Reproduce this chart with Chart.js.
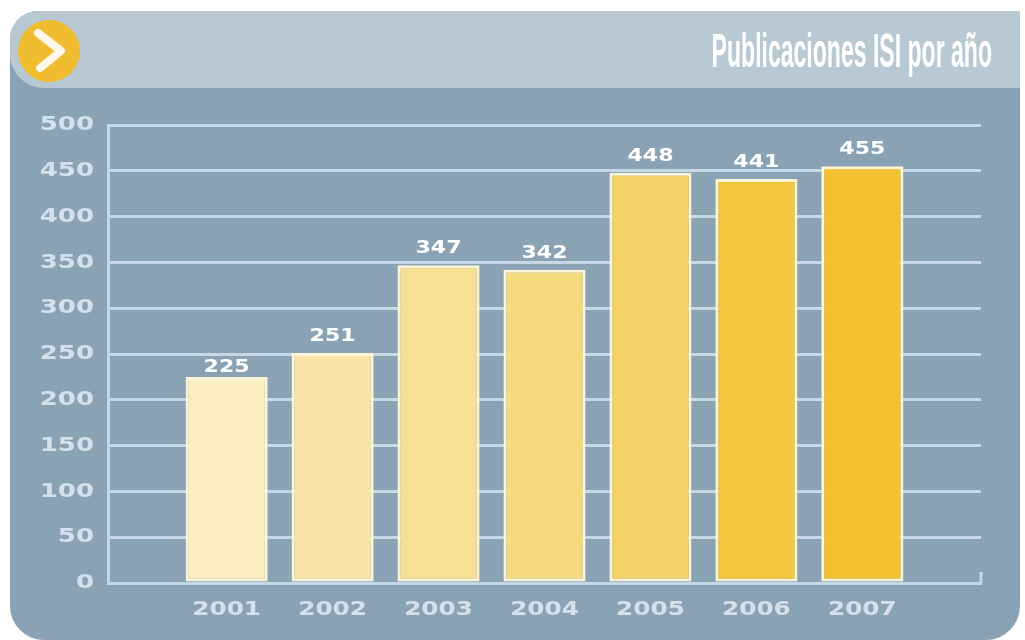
<!DOCTYPE html>
<html>
<head>
<meta charset="utf-8">
<title>Publicaciones ISI por año</title>
<style>
  html, body { margin: 0; padding: 0; background: #fff; }
  #wrap { width: 1025px; height: 640px; }
</style>
</head>
<body>
<div id="wrap"><canvas id="chart"></canvas></div>
<script src="https://cdn.jsdelivr.net/npm/chart.js@4"></script>
<script>
const years = [2001, 2002, 2003, 2004, 2005, 2006, 2007];
const publications = [225, 251, 347, 342, 448, 441, 455];
const barColors = ['#FAEEC2', '#F8E4A6', '#F7DF93', '#F5DB80', '#F4D268', '#F3C63C', '#F2C12E'];
const titleText = 'Publicaciones ISI por año';

const tickColor = '#D4E1EB';
const gridColor = '#C6D8E5';

const ctx = document.getElementById('chart').getContext('2d');

// the original lettering is very wide (numbers) or very narrow (title),
// so stretch each text horizontally around its anchor
const plainFillText = ctx.fillText.bind(ctx);
ctx.fillText = function (text, x, y, maxWidth) {
    const stretch = ctx.font.includes('Liberation') ? 0.48 : 1.3;
    ctx.save();
    ctx.translate(x, y);
    ctx.scale(stretch, 1);
    plainFillText(text, 0, 0, maxWidth);
    ctx.restore();
};

// panel, header band, arrow badge and title
const panelPlugin = {
    id: 'panel',
    beforeDraw(chart) {
        const c = chart.ctx;
        c.save();
        c.fillStyle = '#8AA3B4';
        c.beginPath();
        c.roundRect(10, 11, 1010, 629, [28, 0, 34, 34]);
        c.fill();
        c.fillStyle = '#B9C9D3';
        c.beginPath();
        c.roundRect(10, 11, 1010, 77, [28, 0, 0, 34]);
        c.fill();
        c.fillStyle = '#F0BC30';
        c.beginPath();
        c.arc(49, 51, 31, 0, Math.PI * 2);
        c.fill();
        c.strokeStyle = '#FFF8E8';
        c.lineWidth = 8;
        c.lineCap = 'round';
        c.lineJoin = 'round';
        c.beginPath();
        c.moveTo(38, 33);
        c.lineTo(61, 51);
        c.lineTo(40, 68);
        c.stroke();
        c.font = 'bold 48px "Liberation Sans"';
        c.fillStyle = '#FFFFFF';
        c.textAlign = 'right';
        c.textBaseline = 'alphabetic';
        c.fillText(titleText, 992, 67);
        c.restore();
    }
};

// value above each bar, and the little end tick of the x axis
const valuesPlugin = {
    id: 'values',
    afterDatasetsDraw(chart) {
        const c = chart.ctx;
        const area = chart.chartArea;
        c.save();
        c.strokeStyle = gridColor;
        c.lineWidth = 3;
        c.beginPath();
        c.moveTo(area.right, area.bottom);
        c.lineTo(area.right, area.bottom - 11);
        c.stroke();
        c.font = 'bold 17px "DejaVu Sans"';
        c.fillStyle = '#FFFFFF';
        c.textAlign = 'center';
        c.textBaseline = 'bottom';
        chart.getDatasetMeta(0).data.forEach((bar, i) => {
            // the first label sits tighter on its bar in the original
            c.fillText(String(publications[i]), bar.x, bar.y - (i === 0 ? 1 : 8));
        });
        c.restore();
    }
};

new Chart(ctx, {
    type: 'bar',
    data: {
        labels: years,
        datasets: [{
            label: 'Publicaciones ISI',
            data: publications,
            backgroundColor: barColors,
            borderColor: '#FBF4D6',
            borderWidth: 3,
            borderSkipped: false,
            categoryPercentage: 1,
            barPercentage: 0.775
        }]
    },
    options: {
        responsive: true,
        maintainAspectRatio: false,
        animation: false,
        layout: { padding: { top: 125, right: 44, bottom: 0, left: 0 } },
        scales: {
            x: {
                type: 'linear',
                offset: false,
                min: 1999.88,
                max: 2008.12,
                afterFit(scale) { scale.height = 57; },
                grid: { display: false },
                border: { color: gridColor, width: 3 },
                afterBuildTicks(scale) {
                    scale.ticks = years.map(y => ({ value: y }));
                },
                ticks: {
                    color: tickColor,
                    padding: 8,
                    maxRotation: 0,
                    autoSkip: false,
                    font: { family: '"DejaVu Sans"', size: 19, weight: 'bold' },
                    callback: v => String(v)
                }
            },
            y: {
                min: 0,
                max: 500,
                afterFit(scale) { scale.width = 108; },
                grid: { color: gridColor, lineWidth: 3, drawTicks: false },
                border: { color: gridColor, width: 3 },
                ticks: {
                    stepSize: 50,
                    color: tickColor,
                    padding: 14,
                    font: { family: '"DejaVu Sans"', size: 20, weight: 'bold' }
                }
            }
        },
        plugins: {
            legend: { display: false },
            tooltip: { enabled: false },
            title: { display: false }
        }
    },
    plugins: [panelPlugin, valuesPlugin]
});
</script>
</body>
</html>
